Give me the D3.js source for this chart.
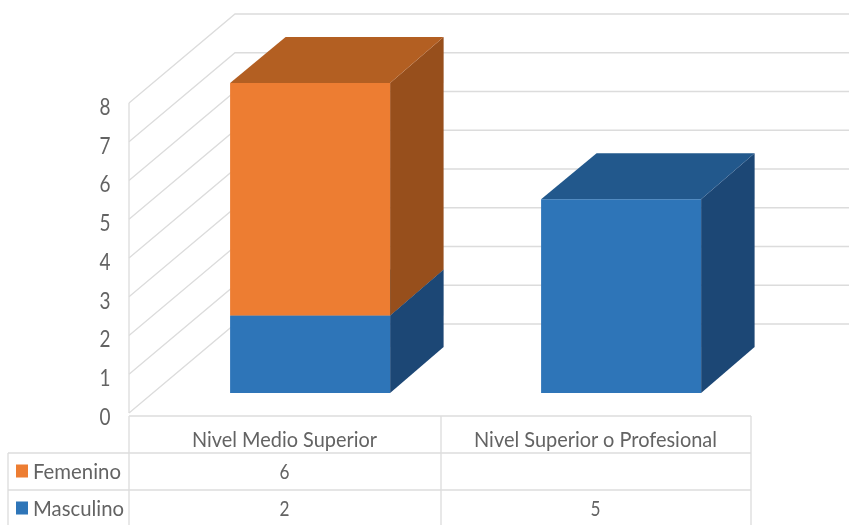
<!DOCTYPE html>
<html><head><meta charset="utf-8">
<script src="https://cdn.jsdelivr.net/npm/d3@7"></script>
<style>html,body{margin:0;background:#fff}svg{display:block}text{font-family:Lato,"Open Sans",sans-serif;fill:#636363}</style>
</head><body><div id="c"></div>
<script>
const categories = ["Nivel Medio Superior", "Nivel Superior o Profesional"];
const seriesNames = ["Masculino", "Femenino"];
const masculino = [2, 5];
const femenino = [6, null];
const yTicks = [0,1,2,3,4,5,6,7,8];
const colors = {
  Masculino: {front:"#2e74b8", top:"#22588c", side:"#1c4675"},
  Femenino:  {front:"#ed7d31", top:"#b35f23", side:"#974f1c"}
};
const W = 849, H = 525;
const svg = d3.select("#c").append("svg").attr("width",W).attr("height",H);
const defs = svg.append("defs");
defs.append("filter").attr("id","soft").append("feGaussianBlur").attr("stdDeviation",0.5);

const grid = "#dcdcdc";
const yWall = d3.scaleLinear().domain([0,8]).range([413,103]);
const yBar = d3.scaleLinear().domain([0,8]).range([393,83]);
const p = 1 - 160/311;
const x = d3.scaleBand().domain(categories).range([129,751]).paddingInner(p).paddingOuter(p/2);
const barShift = 25.6, wallDx = 106, wallDy = 89, barDx = 53.5, barDy = 46;

const root = svg.append("g").attr("filter","url(#soft)");
const walls = root.append("g").attr("fill","none").attr("stroke",grid).attr("stroke-width",1.3);
walls.selectAll("path.g").data(yTicks).join("path").attr("class","g")
  .attr("d", t => d3.line()([[129,yWall(t)],[129+wallDx,yWall(t)-wallDy],[W,yWall(t)-wallDy]]));
walls.append("line").attr("x1",129).attr("x2",129).attr("y1",yWall(8)).attr("y2",yWall(0));

const rows = categories.map((c,i)=>({cat:c, Masculino:masculino[i], Femenino:femenino[i]||0}));
const stacked = d3.stack().keys(seriesNames)(rows);
const barsG = root.append("g");
stacked.forEach(s=>{
  const col = colors[s.key];
  s.forEach(d=>{
    if (d[1]===d[0]) return;
    const x0 = x(d.data.cat)+barShift, x1 = x0+x.bandwidth(), yb = yBar(d[0]), yt = yBar(d[1]);
    const g = barsG.append("g");
    g.append("path").attr("fill",col.side).attr("d",d3.line()([[x1,yb],[x1+barDx,yb-barDy],[x1+barDx,yt-barDy],[x1,yt]])+"Z");
    g.append("path").attr("fill",col.top).attr("d",d3.line()([[x0,yt],[x0+barDx+2,yt-barDy],[x1+barDx,yt-barDy],[x1,yt]])+"Z");
    g.append("rect").attr("x",x0).attr("y",yt).attr("width",x1-x0).attr("height",yb-yt).attr("fill",col.front);
  });
});

const ax = root.append("g").attr("transform","translate(129,4)").call(d3.axisLeft(yWall).tickValues(yTicks).tickSize(0).tickFormat(d3.format("d")));
ax.select(".domain").remove();
ax.selectAll("text").style("font-size","23px").attr("dy","0.32em").attr("text-anchor","middle").attr("x",-24)
  .attr("textLength",11).attr("lengthAdjust","spacingAndGlyphs");

const tbl = root.append("g").attr("stroke",grid).attr("stroke-width",1.3);
const colX = [129, 441, 751], rowY = [416, 453, 490];
colX.forEach(cx=>tbl.append("line").attr("x1",cx).attr("x2",cx).attr("y1",rowY[0]).attr("y2",H));
rowY.forEach((ry,i)=>tbl.append("line").attr("x1",i? 8:129).attr("x2",751).attr("y1",ry).attr("y2",ry));
tbl.append("line").attr("x1",8).attr("x2",8).attr("y1",rowY[1]).attr("y2",H);

const centers = categories.map(c=>x(c)+x.bandwidth()/2);
const labelLen = [185, 243];
categories.forEach((c,i)=>{
  root.append("text").attr("x",centers[i]).attr("y",447).attr("text-anchor","middle")
    .attr("textLength",labelLen[i]).attr("lengthAdjust","spacingAndGlyphs").style("font-size","21px").text(c);
});
const tableRows = [["Femenino",femenino,478.5,88],["Masculino",masculino,515.5,91]];
tableRows.forEach(([name,vals,by,len])=>{
  root.append("rect").attr("x",16).attr("y",by-14).attr("width",12).attr("height",13).attr("fill",colors[name].front);
  root.append("text").attr("x",33).attr("y",by).attr("textLength",len).attr("lengthAdjust","spacingAndGlyphs").style("font-size","21px").text(name);
  vals.forEach((v,i)=>{ if(v!=null) root.append("text").attr("x",centers[i]).attr("y",by+0.5).attr("text-anchor","middle").attr("textLength",10).attr("lengthAdjust","spacingAndGlyphs").style("font-size","21px").text(v); });
});
</script></body></html>
